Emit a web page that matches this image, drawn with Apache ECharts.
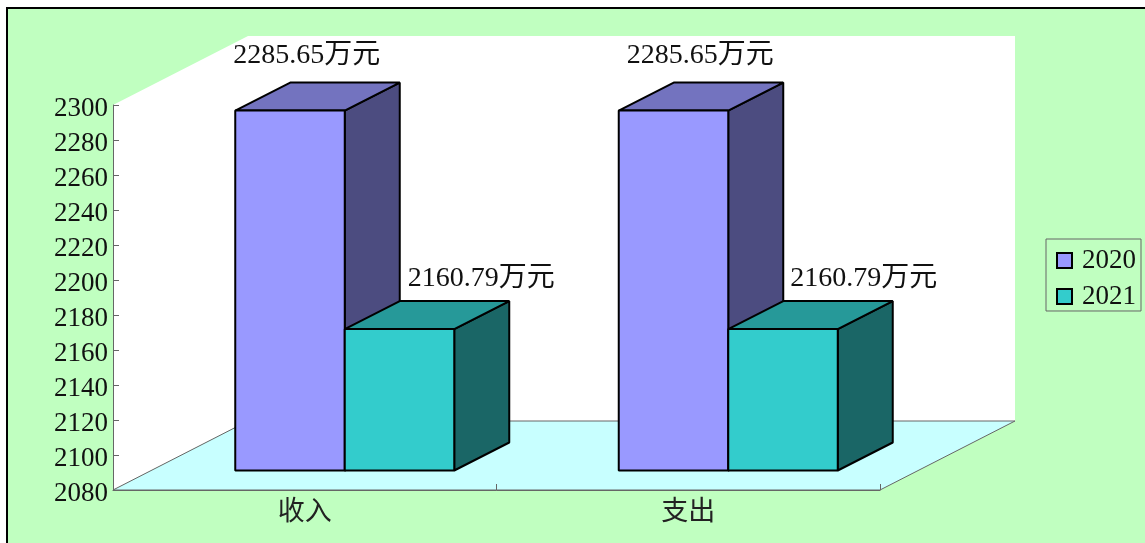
<!DOCTYPE html>
<html>
<head>
<meta charset="utf-8">
<style>html,body{margin:0;padding:0;background:#fff}#c{width:1145px;height:543px}</style>
<script src="https://cdn.jsdelivr.net/npm/echarts@6/dist/echarts.min.js"></script>
</head>
<body>
<div id="c"></div>
<script>
const categories = ['收入', '支出'];
const values2020 = [2285.65, 2285.65];
const values2021 = [2160.79, 2160.79];
const yTicks = { min: 2080, max: 2300, interval: 20 };

const FONT = '"Liberation Serif","Noto Sans CJK SC",serif';
const FLOOR = [135, -69];     // full depth of the chart box
const BAR_FRONT = [40, -19.5]; // where the bar's front face sits in the depth
const BAR_DEPTH = [55, -28];
const BAR_W = 109.5;
const LABEL_SHIFT = { '2020': [[-2, -55], [8, -55]], '2021': [[63, -50], [62, -50]] };

const chart = echarts.init(document.getElementById('c'), null, { renderer: 'canvas' });

function poly(points, fill, stroke, lw, z2) {
  return {
    type: 'polygon', z2: z2 || 0,
    shape: { points },
    style: { fill, stroke, lineWidth: lw, lineJoin: 'bevel' }
  };
}

function barSeries(name, values, slot, front, top, side) {
  return {
    type: 'custom', name, z: 4,
    itemStyle: { color: front, borderColor: '#000', borderWidth: 1.5 },
    data: values.map((v, i) => [i, v]),
    encode: { x: 0, y: 1 },
    clip: false,
    renderItem(params, api) {
      const i = api.value(0), v = api.value(1);
      const c = api.coord([i, v]);
      const base = api.coord([i, yTicks.min]);
      const x0 = c[0] - BAR_W + slot * BAR_W + BAR_FRONT[0];
      const x1 = x0 + BAR_W;
      const yt = c[1] + BAR_FRONT[1];
      const yb = base[1] + BAR_FRONT[1];
      const dx = BAR_DEPTH[0], dy = BAR_DEPTH[1];
      const s = LABEL_SHIFT[name][i];
      return {
        type: 'group',
        children: [
          poly([[x1, yt], [x1 + dx, yt + dy], [x1 + dx, yb + dy], [x1, yb]], side, '#000', 2),
          poly([[x0, yt], [x0 + dx, yt + dy], [x1 + dx, yt + dy], [x1, yt]], top, '#000', 2),
          poly([[x0, yt], [x1, yt], [x1, yb], [x0, yb]], front, '#000', 2),
          {
            type: 'text', z2: 5,
            style: {
              x: x0 + s[0], y: yt + s[1],
              text: v.toFixed(2) + '万元',
              font: '28px ' + FONT,
              fill: '#111', align: 'left', verticalAlign: 'middle'
            }
          }
        ]
      };
    }
  };
}

chart.setOption({
  animation: false,
  backgroundColor: '#fff',
  graphic: [{
    type: 'rect', z: -10,
    shape: { x: 7, y: 8, width: 1160, height: 560 },
    style: { fill: '#c0ffc0', stroke: '#000', lineWidth: 2 }
  }],
  grid: { left: 113, right: 265, top: 105, bottom: 53, containLabel: false },
  xAxis: {
    type: 'category', data: categories, z: 3,
    axisLine: { lineStyle: { color: '#666', width: 1 } },
    axisTick: { show: true, inside: true, length: 6, alignWithLabel: false, lineStyle: { color: '#666' } },
    axisLabel: { color: '#222', fontFamily: FONT, fontSize: 27, margin: 9 },
    splitLine: { show: false }
  },
  yAxis: {
    type: 'value', min: yTicks.min, max: yTicks.max, interval: yTicks.interval, z: 3,
    axisLine: { show: true, lineStyle: { color: '#666', width: 1 } },
    axisTick: { show: true, inside: true, length: 6, lineStyle: { color: '#666' } },
    axisLabel: { color: '#111', fontFamily: FONT, fontSize: 27, margin: 5, verticalAlign: 'top', lineHeight: 7, formatter: v => String(v) },
    splitLine: { show: false }
  },
  legend: {
    orient: 'vertical', left: 1046, top: 239,
    data: ['2020', '2021'], icon: 'rect',
    itemWidth: 15, itemHeight: 15, itemGap: 9,
    padding: [8, 5, 1, 10],
    borderColor: '#666', borderWidth: 1,
    textStyle: { color: '#111', fontFamily: FONT, fontSize: 27, padding: [0, 0, 0, 5] }
  },
  series: [
    {
      type: 'custom', name: 'box', z: 1, silent: true, clip: false,
      data: [[0, yTicks.min]],
      encode: { x: 0, y: 1 },
      renderItem(params) {
        const g = params.coordSys;
        const l = g.x, r = g.x + g.width, t = g.y, b = g.y + g.height;
        const dx = FLOOR[0], dy = FLOOR[1];
        return {
          type: 'group',
          children: [
            poly([[l, t], [l + dx, t + dy], [r + dx, t + dy], [r + dx, b + dy], [l + dx, b + dy], [l, b]], '#fff', 'none', 0),
            poly([[l, b], [r, b], [r + dx, b + dy], [l + dx, b + dy]], '#c8ffff', '#666', 1)
          ]
        };
      }
    },
    barSeries('2020', values2020, 0, '#9999ff', '#7373bf', '#4c4c80'),
    barSeries('2021', values2021, 1, '#33cccc', '#269999', '#1a6666')
  ]
});
</script>
</body>
</html>
